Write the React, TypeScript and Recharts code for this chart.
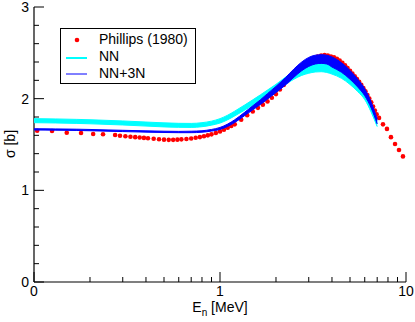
import React from 'react';
import { ComposedChart, Area, Scatter, XAxis, YAxis } from 'recharts';

// theory grid (MeV) and the two bands
const theoryE = [0.1, 0.13, 0.17, 0.2, 0.25, 0.3, 0.4, 0.5, 0.6, 0.7, 0.8, 0.9, 1.0, 1.1, 1.2, 1.35, 1.5, 1.65, 1.8, 2.0, 2.25, 2.5, 2.75, 3.0, 3.25, 3.5, 3.75, 4.0, 4.5, 5.0, 5.5, 6.0, 6.5, 7.0];
const nnLow = [1.738, 1.735, 1.730, 1.726, 1.719, 1.713, 1.701, 1.692, 1.687, 1.686, 1.694, 1.711, 1.734, 1.770, 1.812, 1.872, 1.927, 1.978, 2.026, 2.084, 2.155, 2.213, 2.254, 2.277, 2.291, 2.294, 2.286, 2.268, 2.222, 2.155, 2.077, 1.990, 1.852, 1.695];
const nnHigh = [1.782, 1.779, 1.774, 1.770, 1.763, 1.757, 1.745, 1.736, 1.731, 1.730, 1.738, 1.755, 1.782, 1.820, 1.864, 1.928, 1.987, 2.042, 2.094, 2.156, 2.235, 2.297, 2.342, 2.369, 2.383, 2.386, 2.378, 2.360, 2.314, 2.245, 2.163, 2.070, 1.928, 1.765];
const nn3nLow = [1.658, 1.656, 1.653, 1.650, 1.645, 1.641, 1.635, 1.631, 1.629, 1.629, 1.634, 1.646, 1.664, 1.697, 1.740, 1.812, 1.878, 1.936, 1.995, 2.066, 2.150, 2.235, 2.305, 2.352, 2.378, 2.385, 2.378, 2.345, 2.288, 2.212, 2.127, 2.032, 1.898, 1.724];
const nn3nHigh = [1.672, 1.670, 1.667, 1.664, 1.659, 1.655, 1.649, 1.645, 1.643, 1.645, 1.650, 1.664, 1.686, 1.723, 1.770, 1.848, 1.922, 1.988, 2.055, 2.134, 2.230, 2.325, 2.400, 2.450, 2.474, 2.480, 2.474, 2.455, 2.392, 2.308, 2.213, 2.108, 1.962, 1.776];

// Phillips (1980) measurement
const phillipsE = [0.104, 0.125, 0.15, 0.179, 0.208, 0.235, 0.273, 0.29, 0.31, 0.33, 0.35, 0.37, 0.39, 0.41, 0.44, 0.47, 0.5, 0.53, 0.56, 0.59, 0.62, 0.66, 0.7, 0.74, 0.78, 0.82, 0.86, 0.9, 0.95, 1.0, 1.05, 1.1, 1.15, 1.2, 1.3, 1.4, 1.5, 1.6, 1.7, 1.8, 1.9, 2.0, 2.1, 2.2, 2.3, 2.4, 2.5, 2.6, 2.75, 2.9, 3.05, 3.2, 3.35, 3.5, 3.65, 3.8, 3.95, 4.1, 4.25, 4.4, 4.55, 4.7, 4.85, 5.0, 5.15, 5.3, 5.45, 5.6, 5.75, 5.9, 6.05, 6.2, 6.35, 6.5, 6.65, 6.8, 6.95, 7.16, 7.52, 7.9, 8.3, 8.73, 9.17, 9.63];
const phillipsSigma = [1.65, 1.648, 1.628, 1.625, 1.615, 1.612, 1.603, 1.595, 1.59, 1.585, 1.58, 1.576, 1.572, 1.568, 1.562, 1.557, 1.553, 1.551, 1.551, 1.553, 1.556, 1.56, 1.566, 1.573, 1.581, 1.59, 1.6, 1.611, 1.626, 1.643, 1.662, 1.682, 1.702, 1.72, 1.77, 1.82, 1.86, 1.9, 1.935, 1.97, 2.01, 2.05, 2.1, 2.15, 2.19, 2.23, 2.265, 2.3, 2.345, 2.385, 2.415, 2.44, 2.46, 2.47, 2.475, 2.47, 2.46, 2.45, 2.435, 2.415, 2.39, 2.365, 2.335, 2.305, 2.275, 2.245, 2.215, 2.185, 2.15, 2.115, 2.08, 2.04, 2.0, 1.96, 1.915, 1.87, 1.83, 1.79, 1.72, 1.67, 1.58, 1.505, 1.44, 1.37];

const xTicks = [0.1, 0.2, 0.3, 0.4, 0.5, 0.6, 0.7, 0.8, 0.9, 1, 2, 3, 4, 5, 6, 7, 8, 9, 10];
const xMajor = [0.1, 1, 10];
const xMajorLabels = ['0', '1', '10'];
const yTicks = [0, 0.2, 0.4, 0.6, 0.8, 1, 1.2, 1.4, 1.6, 1.8, 2, 2.2, 2.4, 2.6, 2.8, 3];
const yMajor = [0, 1, 2, 3];
const yMajorLabels = ['0', '1', '2', '3'];

const theory = theoryE.map((e, i) => ({ E: e, nn: [nnLow[i], nnHigh[i]], nn3n: [nn3nLow[i], nn3nHigh[i]] }));
const phillips = phillipsE.map((e, i) => ({ E: e, sigma: phillipsSigma[i] }));

const FONT = '"Liberation Sans", Arial, sans-serif';
const W = 415;
const H = 322;
const MARGIN = { top: 7, right: 9, left: 0, bottom: 0 };

function BottomTick({ x, y, payload }: any) {
  const i = xMajor.indexOf(payload.value);
  return (
    <g>
      <line x1={x} x2={x} y1={y} y2={y - (i >= 0 ? 10 : 5)} stroke="#000" />
      {i >= 0 && (
        <text x={x} y={y + 14} textAnchor="middle" fontSize={14} fill="#000">{xMajorLabels[i]}</text>
      )}
    </g>
  );
}

function TopTick({ x, y, payload }: any) {
  const major = xMajor.includes(payload.value);
  return <line x1={x} x2={x} y1={y} y2={y + (major ? 10 : 5)} stroke="#000" />;
}

function LeftTick({ x, y, payload }: any) {
  const i = yMajor.indexOf(payload.value);
  return (
    <g>
      <line x1={x} x2={x + (i >= 0 ? 10 : 5)} y1={y} y2={y} stroke="#000" />
      {i >= 0 && (
        <text x={x - 5} y={y + 5} textAnchor="end" fontSize={14} fill="#000">{yMajorLabels[i]}</text>
      )}
    </g>
  );
}

function RightTick({ x, y, payload }: any) {
  const major = yMajor.includes(payload.value);
  return <line x1={x} x2={x - (major ? 10 : 5)} y1={y} y2={y} stroke="#000" />;
}

const Dot = (p: any) => <circle cx={p.cx} cy={p.cy} r={2.3} fill="#ff0000" />;

const XTitle = () => (
  <text x={220} y={312} textAnchor="middle" fontSize={14} fill="#000">
    E<tspan dy={4} fontSize={10}>n</tspan><tspan dy={-4}> [MeV]</tspan>
  </text>
);

const YTitle = () => (
  <text x={0} y={0} transform="translate(15,144) rotate(-90)" textAnchor="middle" fontSize={14} fill="#000">
    σ [b]
  </text>
);

export default function App() {
  return (
    <div style={{ position: 'absolute', left: 0, top: 0, width: W, height: H, fontFamily: FONT, background: '#fff' }}>
      {/* frame, ticks and the measured points */}
      <ComposedChart width={W} height={H} margin={MARGIN} style={{ fontFamily: FONT, position: 'absolute', left: 0, top: 0 }}>
        <XAxis dataKey="E" type="number" scale="log" domain={[0.1, 10]} allowDataOverflow ticks={xTicks}
          interval={0} height={40} tickSize={0} tickMargin={0} tick={<BottomTick />}
          axisLine={{ stroke: '#000', strokeWidth: 1.2 }} label={<XTitle />} />
        <XAxis xAxisId="t" orientation="top" dataKey="E" type="number" scale="log" domain={[0.1, 10]} allowDataOverflow
          ticks={xTicks} interval={0} height={0} tickSize={0} tickMargin={0} tick={<TopTick />}
          axisLine={{ stroke: '#000', strokeWidth: 1.2 }} />
        <YAxis type="number" domain={[0, 3]} ticks={yTicks} interval={0} width={34} tickSize={0} tickMargin={0}
          tick={<LeftTick />} axisLine={{ stroke: '#000', strokeWidth: 1.2 }} label={<YTitle />} />
        <YAxis yAxisId="r" orientation="right" type="number" domain={[0, 3]} ticks={yTicks} interval={0} width={0}
          tickSize={0} tickMargin={0} tick={<RightTick />} axisLine={{ stroke: '#000', strokeWidth: 1.2 }} />
        <Scatter data={phillips} dataKey="sigma" shape={Dot} isAnimationActive={false} />
      </ComposedChart>

      {/* theory bands drawn over the points, same plot box */}
      <ComposedChart width={W} height={H} data={theory} margin={{ top: 7, right: 9, left: 34, bottom: 40 }}
        style={{ position: 'absolute', left: 0, top: 0 }}>
        <XAxis dataKey="E" type="number" scale="log" domain={[0.1, 10]} allowDataOverflow hide />
        <YAxis type="number" domain={[0, 3]} hide />
        <Area type="monotone" dataKey="nn" stroke="#00ffff" strokeWidth={1} fill="#00ffff" fillOpacity={1} activeDot={false} isAnimationActive={false} />
        <Area type="monotone" dataKey="nn3n" stroke="#0000ff" strokeWidth={1} fill="#0000ff" fillOpacity={1} activeDot={false} isAnimationActive={false} />
      </ComposedChart>

      <div style={{ position: 'absolute', left: 60, top: 28, width: 136, height: 56, border: '1px solid #000', boxSizing: 'border-box', fontSize: 14, color: '#000', background: '#fff' }}>
        <svg width={40} height={56} style={{ position: 'absolute', left: 0, top: 0 }}>
          <circle cx={16} cy={11} r={2.3} fill="#ff0000" />
          <line x1={5} x2={26} y1={29} y2={29} stroke="#00ffff" strokeWidth={2} />
          <line x1={5} x2={26} y1={45} y2={45} stroke="#0000ff" strokeWidth={1} />
        </svg>
        <div style={{ position: 'absolute', left: 38, top: 2, lineHeight: '17px', whiteSpace: 'nowrap' }}>
          <div>Phillips (1980)</div>
          <div>NN</div>
          <div>NN+3N</div>
        </div>
      </div>
    </div>
  );
}
